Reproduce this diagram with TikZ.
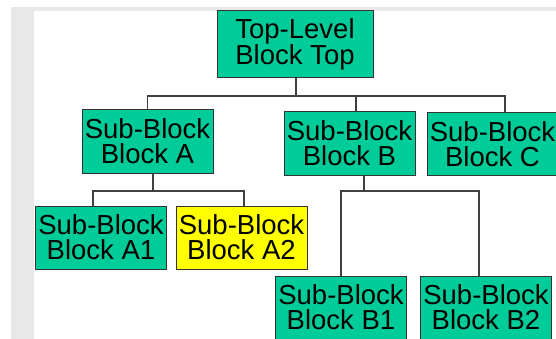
\documentclass[tikz,border=0pt]{standalone}
\usepackage{fontspec}
\setmainfont{Liberation Sans}
\usepackage{tikz}
\usepackage{color}
\definecolor{blockgreen}{RGB}{0,204,153}
\definecolor{blockyellow}{RGB}{255,255,0}
\definecolor{framegray}{RGB}{232,232,232}
\colorlet{wiregray}{black!75}

\tikzset{
    block/.style={draw=black!80,line width=1pt,fill=blockgreen,
        minimum width=131pt,minimum height=63pt,inner sep=0pt,align=center,
        font=\fontsize{27.5}{25}\selectfont},
    wire/.style={wiregray,line width=1.1pt}
}

\begin{document}
\begin{tikzpicture}[x=1pt,y=-1pt]
        \useasboundingbox (0,0) rectangle (556,339);
        \fill[framegray](11,7) rectangle (556,11);
        \fill[framegray](11,7) rectangle (34,339);

        \node[block,minimum width=156pt,minimum height=67pt](top) at (295,44.5) {Top-Level\\Block Top};
        \node[block](a) at (147.5,141.5) {Sub-Block\\Block A};
        \node[block](b) at (349.5,143.5) {Sub-Block\\Block B};
        \node[block](c) at (492.5,144) {Sub-Block\\Block C};
        \node[block](a1) at (101,237.5) {Sub-Block\\Block A1};
        \node[block,fill=blockyellow](a2) at (241.5,237.5) {Sub-Block\\Block A2};
        \node[block](b1) at (341,307.5) {Sub-Block\\Block B1};
        \node[block](b2) at (486,307.5) {Sub-Block\\Block B2};

        \coordinate(topbus) at (296,96);
        \coordinate(abus) at (153,191);
        \coordinate(bbus) at (364,191);

        \draw[wire](top.south -| topbus)--(topbus);
        \draw[wire](a.north) |- (topbus) -| ([xshift=12.5pt]c.north);
        \draw[wire]([xshift=6.5pt]b.north)--([xshift=6.5pt]b.north |- topbus);

        \draw[wire](a.south -| abus)--(abus);
        \draw[wire]([xshift=-8pt]a1.north) |- (abus) -| ([xshift=2.5pt]a2.north);

        \draw[wire](b.south -| bbus)--(bbus);
        \draw[wire](b1.north) |- (bbus) -| ([xshift=-7pt]b2.north);
    \end{tikzpicture}
\end{document}
